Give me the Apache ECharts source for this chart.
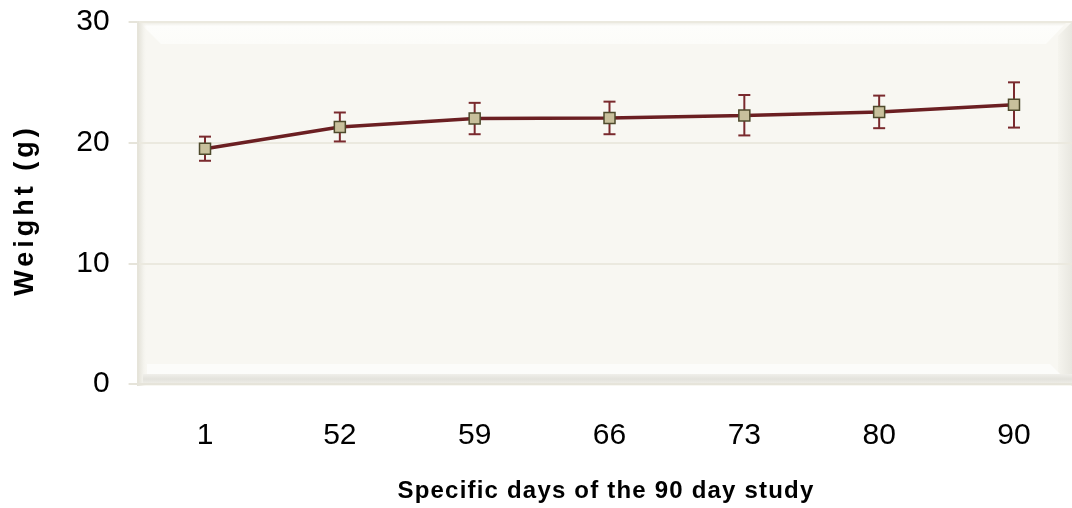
<!DOCTYPE html>
<html>
<head>
<meta charset="utf-8">
<script src="https://cdn.jsdelivr.net/npm/echarts@6/dist/echarts.min.js"></script>
<style>
html,body{margin:0;padding:0;background:#fff;overflow:hidden;}
#chart{width:1090px;height:508px;}
</style>
</head>
<body>
<div id="chart"></div>
<script>
// ---- data ----
const days = ['1', '52', '59', '66', '73', '80', '90'];
const meanWeight = [19.5, 21.3, 22.0, 22.05, 22.25, 22.55, 23.15];
const errLow = [18.5, 20.1, 20.7, 20.7, 20.6, 21.2, 21.25];
const errHigh = [20.5, 22.5, 23.3, 23.4, 23.95, 23.9, 25.0];
const yTicks = [0, 10, 20, 30];
const xTitle = 'Specific days of the 90 day study';
const yTitle = 'Weight (g)';

// letter spacing for the axis titles only (canvas letterSpacing)
(function () {
  const spacing = {};
  spacing[yTitle] = '4px';
  spacing[xTitle] = '1.2px';
  const proto = CanvasRenderingContext2D.prototype;
  const orig = proto.fillText;
  proto.fillText = function (t) {
    if ('letterSpacing' in this) {
      const ls = spacing[t] || '0px';
      if (this.letterSpacing !== ls) {
        this.letterSpacing = ls;
        const f = this.font;
        this.font = 'bold 1px sans-serif';
        this.font = f;
      }
    }
    return orig.apply(this, arguments);
  };
})();

const FONT = "'Liberation Sans', Arial, sans-serif";
const chart = echarts.init(document.getElementById('chart'), null, {renderer: 'canvas'});

const errData = days.map((d, i) => [i, errLow[i], errHigh[i]]);

// plot frame decoration (bevelled panel)
const PL = 137, PT = 22, PR = 1072, PB = 386;
const graphic = [
  {type: 'rect', z: -10, silent: true, shape: {x: PL, y: PT, width: PR - PL, height: PB - PT},
   style: {fill: '#F8F7F2'}},
  // top light band
  {type: 'polygon', z: -9, silent: true,
   shape: {points: [[PL + 3, PT + 1], [PR - 6, PT + 1], [PR - 26, PT + 22], [PL + 24, PT + 22]]},
   style: {fill: new echarts.graphic.LinearGradient(0, 0, 0, 1, [
     {offset: 0, color: '#F0EFE8'}, {offset: 0.15, color: '#FDFDFB'}, {offset: 1, color: '#FCFCF9'}])}},
  // left shadow
  {type: 'rect', z: -9, silent: true, shape: {x: PL, y: PT, width: 10, height: PB - PT},
   style: {fill: new echarts.graphic.LinearGradient(0, 0, 1, 0, [
     {offset: 0, color: '#E2E0D6'}, {offset: 0.5, color: '#EFEEE7'}, {offset: 1, color: 'rgba(248,247,242,0)'}])}},
  // right band
  {type: 'polygon', z: -9, silent: true,
   shape: {points: [[PR - 14, PT + 14], [PR, PT], [PR, PB], [PR - 14, PB - 14]]},
   style: {fill: new echarts.graphic.LinearGradient(0, 0, 1, 0, [
     {offset: 0, color: '#F5F4EE'}, {offset: 1, color: '#E8E7E0'}])}},
  // bottom white band
  {type: 'polygon', z: -9, silent: true,
   shape: {points: [[PL + 10, PB - 22], [PR - 22, PB - 22], [PR - 12, PB - 12], [PL + 10, PB - 12]]},
   style: {fill: '#FCFCFA'}},
  // bottom gray band
  {type: 'rect', z: -9, silent: true, shape: {x: PL + 6, y: PB - 12, width: PR - PL - 6, height: 10},
   style: {fill: new echarts.graphic.LinearGradient(0, 0, 0, 1, [
     {offset: 0, color: '#F0EFEA'}, {offset: 0.5, color: '#E3E2DC'}, {offset: 1, color: '#EFEEE8'}])}}
];

chart.setOption({
  animation: false,
  backgroundColor: '#ffffff',
  graphic: graphic,
  grid: {left: 137.6, top: 22, width: 943.8, bottom: 122, containLabel: false},
  xAxis: {
    type: 'category',
    data: days,
    boundaryGap: true,
    name: xTitle,
    nameLocation: 'middle',
    nameGap: 95,
    nameTextStyle: {fontFamily: FONT, fontSize: 24, fontWeight: 'bold', color: '#000', padding: [0, 7, 0, 0]},
    axisLine: {show: true, lineStyle: {color: '#E6E4DA', width: 2}},
    axisTick: {show: false},
    axisLabel: {fontFamily: FONT, fontSize: 30, color: '#000', margin: 37},
    splitLine: {show: false}
  },
  yAxis: {
    type: 'value',
    min: yTicks[0],
    max: yTicks[yTicks.length - 1],
    interval: 10,
    name: yTitle,
    nameLocation: 'middle',
    nameGap: 99,
    nameRotate: 90,
    nameTextStyle: {fontFamily: FONT, fontSize: 27, fontWeight: 'bold', color: '#000', padding: [0, 14, 0, 0]},
    axisLine: {show: true, lineStyle: {color: '#E6E4DA', width: 2}},
    axisTick: {show: true, inside: false, length: 9, lineStyle: {color: '#E6E4DA', width: 2}},
    axisLabel: {fontFamily: FONT, fontSize: 30, color: '#000', margin: 28},
    splitLine: {show: true, lineStyle: {color: '#EBE9DF', width: 2}}
  },
  series: [
    {
      type: 'custom',
      z: 2,
      data: errData,
      renderItem: function (params, api) {
        const x = api.coord([api.value(0), 0])[0];
        const lo = api.coord([api.value(0), api.value(1)])[1];
        const hi = api.coord([api.value(0), api.value(2)])[1];
        const cap = 6;
        const st = {stroke: '#7A2A2E', lineWidth: 2};
        return {
          type: 'group',
          children: [
            {type: 'line', shape: {x1: x, y1: lo, x2: x, y2: hi}, style: st},
            {type: 'line', shape: {x1: x - cap, y1: lo, x2: x + cap, y2: lo}, style: st},
            {type: 'line', shape: {x1: x - cap, y1: hi, x2: x + cap, y2: hi}, style: st}
          ]
        };
      }
    },
    {
      type: 'line',
      z: 3,
      data: meanWeight,
      symbol: 'rect',
      symbolSize: 11,
      lineStyle: {color: '#6B1F22', width: 3.5},
      itemStyle: {color: '#C8C09C', borderColor: '#4E4A2C', borderWidth: 1.5}
    }
  ]
});
</script>
</body>
</html>
